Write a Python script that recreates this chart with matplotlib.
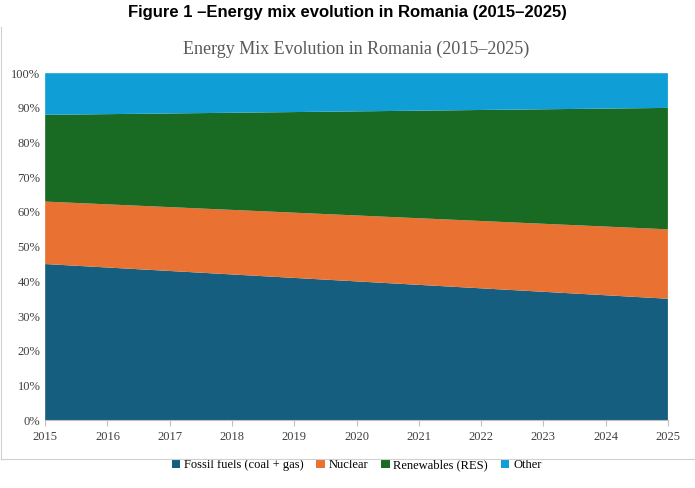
import matplotlib.pyplot as plt
from matplotlib.ticker import PercentFormatter

years = [2015, 2016, 2017, 2018, 2019, 2020, 2021, 2022, 2023, 2024, 2025]
fossil = [45, 44, 43, 42, 41, 40, 39, 38, 37, 36, 35]
nuclear = [18, 18.2, 18.4, 18.6, 18.8, 19, 19.2, 19.4, 19.6, 19.8, 20]
renewables = [25, 26, 27, 28, 29, 30, 31, 32, 33, 34, 35]
other = [12, 11.8, 11.6, 11.4, 11.2, 11, 10.8, 10.6, 10.4, 10.2, 10]
labels = ['Fossil fuels (coal + gas)', 'Nuclear', 'Renewables (RES)', 'Other']
colors = ['#165e80', '#e97132', '#196b24', '#0f9ed5']

fig = plt.figure(figsize=(6.95, 4.88), dpi=100)
ax = fig.add_axes([0.065, 0.139, 0.896, 0.711])
ax.stackplot(years, fossil, nuclear, renewables, other, labels=labels, colors=colors)

ax.set_xlim(2015, 2025)
ax.set_ylim(0, 100)
ax.set_xticks(years)
ax.set_yticks(range(0, 101, 10))
ax.yaxis.set_major_formatter(PercentFormatter(decimals=0))
for lbl in ax.get_xticklabels() + ax.get_yticklabels():
    lbl.set_fontfamily('Liberation Serif')
    lbl.set_fontsize(9)
    lbl.set_color('#404040')
for s in ['top', 'right', 'left']:
    ax.spines[s].set_visible(False)
ax.spines['bottom'].set_color('#bfbfbf')
ax.tick_params(axis='y', length=0)
ax.tick_params(axis='x', length=4, color='#bfbfbf')

ax.set_title('Energy Mix Evolution in Romania (2015\u20132025)', fontfamily='Liberation Serif',
             fontsize=13, color='#595959', pad=14)
fig.text(0.5, 0.975, 'Figure 1 \u2013Energy mix evolution in Romania (2015\u20132025)',
         ha='center', va='center', fontfamily='Liberation Sans', fontweight='bold', fontsize=12)
ax.legend(loc='upper center', bbox_to_anchor=(0.5, -0.08), ncol=4, frameon=False,
          prop={'family': 'Liberation Serif', 'size': 9}, handlelength=0.7, handleheight=0.7,
          columnspacing=1.0, handletextpad=0.3)
# outer frame line
fig.add_artist(plt.Line2D([0.002, 0.002], [0.06, 0.945], color='#d0d0d0', lw=0.8))
fig.add_artist(plt.Line2D([0.002, 0.998], [0.06, 0.06], color='#d0d0d0', lw=0.8))
fig.savefig('out.png')
